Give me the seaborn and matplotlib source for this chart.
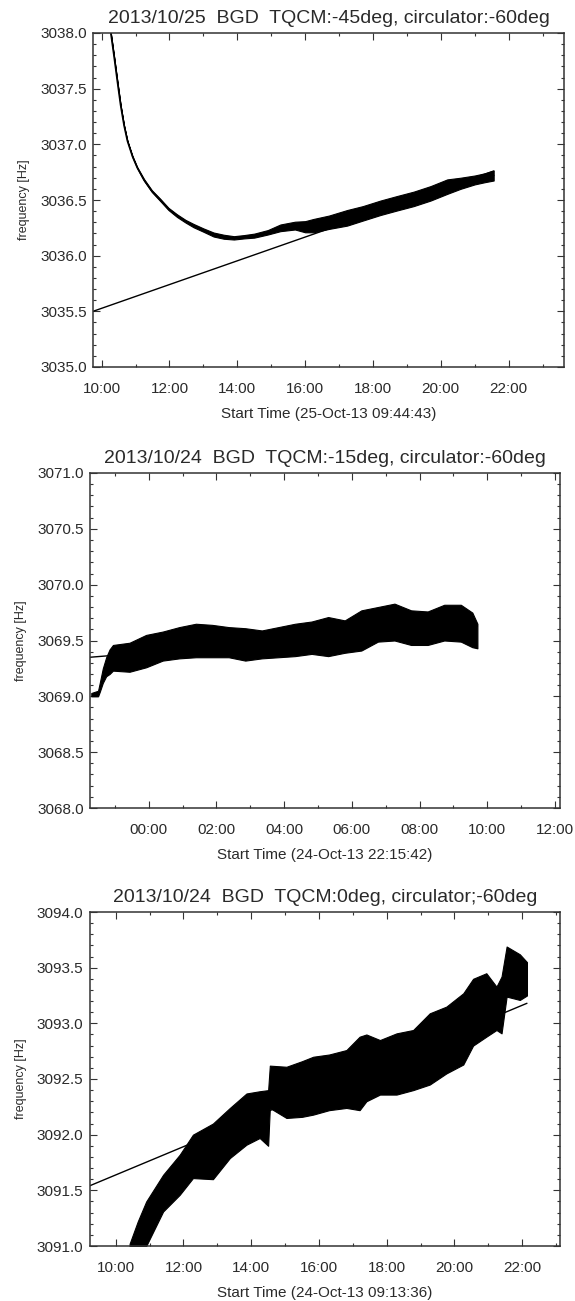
import numpy as np
import pandas as pd
import matplotlib
matplotlib.use('Agg')
import matplotlib.pyplot as plt
import seaborn as sns
from matplotlib.ticker import MultipleLocator, FuncFormatter

# clock hours are used on x (hours past midnight of the start day)
# --- panel 1 : 2013/10/25, TQCM -45deg
title1 = '2013/10/25  BGD  TQCM:-45deg, circulator:-60deg'
xlabel1 = 'Start Time (25-Oct-13 09:44:43)'
start1 = 9.745
ylim1 = (3035.0, 3038.0)
t1 = [10.20, 10.27, 10.37, 10.47, 10.56, 10.66, 10.76, 10.91, 11.05, 11.25,
      11.48, 11.73, 11.97, 12.22, 12.47, 12.71, 13.0, 13.3, 13.6, 13.9,
      14.2, 14.5, 14.9, 15.27, 15.7, 16.0, 16.25, 16.7, 17.24, 17.7,
      18.22, 18.7, 19.2, 19.7, 20.19, 20.58, 21.0, 21.3, 21.56]
f1 = [3038.15, 3038.00, 3037.78, 3037.55, 3037.35, 3037.17, 3037.03, 3036.89, 3036.79, 3036.68,
      3036.58, 3036.50, 3036.42, 3036.36, 3036.31, 3036.27, 3036.23, 3036.19, 3036.17, 3036.16,
      3036.17, 3036.18, 3036.21, 3036.25, 3036.27, 3036.26, 3036.27, 3036.30, 3036.34, 3036.38,
      3036.43, 3036.47, 3036.51, 3036.56, 3036.62, 3036.65, 3036.68, 3036.70, 3036.72]
# half spread of the noise band
w1 = [0.0, 0.0, 0.0, 0.0, 0.0, 0.0, 0.0, 0.005, 0.005, 0.008,
      0.008, 0.01, 0.01, 0.012, 0.012, 0.015, 0.015, 0.018, 0.018, 0.015,
      0.015, 0.018, 0.02, 0.03, 0.035, 0.05, 0.06, 0.06, 0.07, 0.065,
      0.065, 0.065, 0.065, 0.065, 0.065, 0.05, 0.04, 0.04, 0.045]
fit1_t = [9.745, 21.56]
fit1_f = [3035.50, 3036.76]

# --- panel 2 : 2013/10/24, TQCM -15deg
title2 = '2013/10/24  BGD  TQCM:-15deg, circulator:-60deg'
xlabel2 = 'Start Time (24-Oct-13 22:15:42)'
start2 = 22.262
ylim2 = (3068.0, 3071.0)
t2 = [22.30, 22.50, 22.55, 22.64, 22.74, 22.84, 22.94, 23.43, 23.92, 24.41,
      24.90, 25.39, 25.87, 26.36, 26.85, 27.34, 27.83, 28.32, 28.81, 29.30,
      29.79, 30.28, 30.77, 31.26, 31.75, 32.24, 32.73, 33.22, 33.56, 33.71]
lo2 = [3069.00, 3069.00, 3069.04, 3069.12, 3069.18, 3069.20, 3069.23, 3069.22, 3069.26, 3069.32,
       3069.34, 3069.35, 3069.35, 3069.35, 3069.32, 3069.34, 3069.35, 3069.36, 3069.38, 3069.36,
       3069.39, 3069.41, 3069.49, 3069.50, 3069.46, 3069.46, 3069.50, 3069.49, 3069.44, 3069.43]
hi2 = [3069.03, 3069.05, 3069.12, 3069.25, 3069.35, 3069.42, 3069.46, 3069.48, 3069.55, 3069.58,
       3069.62, 3069.65, 3069.64, 3069.62, 3069.61, 3069.59, 3069.62, 3069.65, 3069.67, 3069.71,
       3069.68, 3069.77, 3069.80, 3069.83, 3069.77, 3069.76, 3069.82, 3069.82, 3069.75, 3069.65]
fit2_t = [22.262, 33.71]
fit2_f = [3069.35, 3069.63]

# --- panel 3 : 2013/10/24, TQCM 0deg
title3 = '2013/10/24  BGD  TQCM:0deg, circulator;-60deg'
xlabel3 = 'Start Time (24-Oct-13 09:13:36)'
start3 = 9.2267
ylim3 = (3091.0, 3094.0)
t3 = [10.41, 10.65, 10.9, 11.40, 11.89, 12.28, 12.87, 13.37, 13.86, 14.25,
      14.50, 14.55, 15.04, 15.5, 15.83, 16.3, 16.81, 17.2, 17.4, 17.8,
      18.29, 18.78, 19.27, 19.76, 20.26, 20.55, 20.94, 21.24, 21.39, 21.54,
      21.93, 22.14]
lo3 = [3090.90, 3090.95, 3091.00, 3091.31, 3091.46, 3091.61, 3091.60, 3091.79, 3091.91, 3091.97,
       3091.90, 3092.24, 3092.15, 3092.16, 3092.18, 3092.22, 3092.24, 3092.22, 3092.30, 3092.36,
       3092.36, 3092.40, 3092.45, 3092.55, 3092.63, 3092.80, 3092.88, 3092.94, 3092.91, 3093.24,
       3093.21, 3093.25]
hi3 = [3091.02, 3091.22, 3091.40, 3091.64, 3091.82, 3092.00, 3092.10, 3092.24, 3092.37, 3092.39,
       3092.40, 3092.62, 3092.61, 3092.66, 3092.70, 3092.72, 3092.76, 3092.88, 3092.90, 3092.85,
       3092.91, 3092.94, 3093.09, 3093.15, 3093.27, 3093.40, 3093.45, 3093.33, 3093.42, 3093.69,
       3093.62, 3093.55]
fit3_t = [9.2267, 22.14]
fit3_f = [3091.54, 3093.18]

span_h = 50000 / 3600  # x range in IDL: 0..50000 s

sns.set_theme(style='ticks')
plt.rcParams['font.family'] = ['Liberation Sans', 'DejaVu Sans']
txt = '#2a2a2a'


def draw_panel(ax, t, lo, hi, fit_t, fit_f, start, ylim, title, xlabel, mid=None):
    ax.fill_between(t, lo, hi, color='black', edgecolor='black', lw=0.8)
    if mid is not None:
        sns.lineplot(x=t, y=mid, ax=ax, color='black', lw=1.2, sort=False)
    sns.lineplot(x=fit_t, y=fit_f, ax=ax, color='black', lw=1.0)
    ax.set_xlim(start, start + span_h)
    ax.set_ylim(*ylim)
    ax.xaxis.set_major_locator(MultipleLocator(2))
    ax.xaxis.set_minor_locator(MultipleLocator(1))
    ax.xaxis.set_major_formatter(FuncFormatter(lambda v, p: f'{int(round(v)) % 24:02d}:00'))
    ax.yaxis.set_major_locator(MultipleLocator(0.5))
    ax.yaxis.set_minor_locator(MultipleLocator(0.1))
    ax.yaxis.set_major_formatter(FuncFormatter(lambda v, p: f'{v:.1f}'))
    ax.tick_params(which='both', direction='in', top=True, right=True,
                   colors='#333333', labelcolor=txt, labelsize=11, width=0.8)
    ax.tick_params(which='major', length=5)
    ax.tick_params(which='minor', length=2.5)
    ax.tick_params(axis='y', which='major', pad=4.5)
    ax.tick_params(axis='x', which='major', pad=10.5)
    for s in ax.spines.values():
        s.set_linewidth(1.1)
        s.set_color('#333333')
    ax.set_title(title, fontsize=14, color=txt, pad=7)
    ax.set_xlabel(xlabel, fontsize=11, color=txt, labelpad=8)
    ax.set_ylabel('frequency [Hz]', fontsize=9, color=txt, labelpad=7)


fig = plt.figure(figsize=(5.75, 13.01), dpi=100)
H = 1301.0
W = 575.0
boxes = [(93, 564, 33, 367), (90, 560, 473, 808), (89.5, 560, 912, 1246)]
axes = [fig.add_axes([l / W, 1 - b / H, (r - l) / W, (b - t) / H]) for l, r, t, b in boxes]

draw_panel(axes[0], t1, np.array(f1) - np.array(w1), np.array(f1) + np.array(w1),
           fit1_t, fit1_f, start1, ylim1, title1, xlabel1, mid=f1)
draw_panel(axes[1], t2, lo2, hi2, fit2_t, fit2_f, start2, ylim2, title2, xlabel2)
draw_panel(axes[2], t3, lo3, hi3, fit3_t, fit3_f, start3, ylim3, title3, xlabel3)

fig.savefig('out.png', dpi=100, facecolor='white')
